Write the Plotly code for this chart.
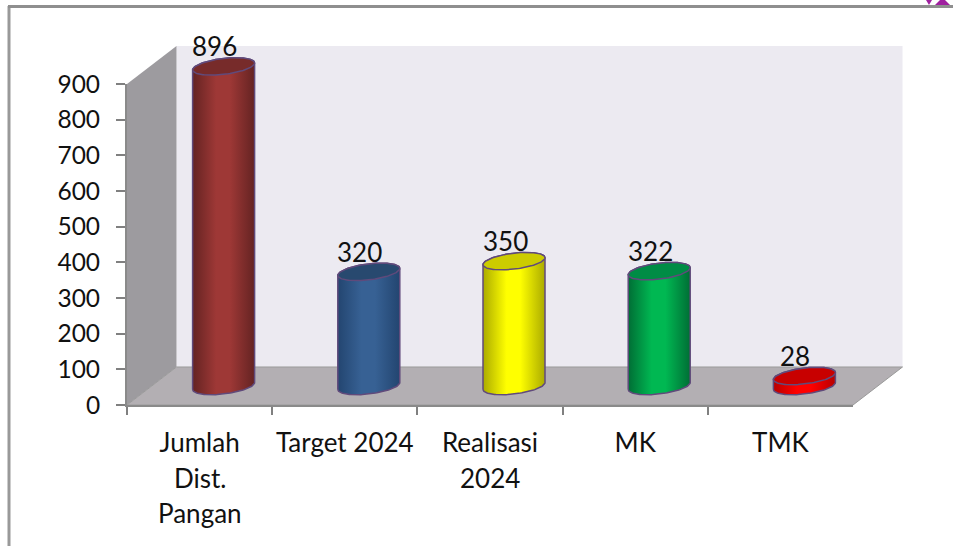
import numpy as np
import plotly.graph_objects as go

W, H = 953, 546

# ---- data ----
category_lines = [["Jumlah", "Dist.", "Pangan"], ["Target 2024"], ["Realisasi", "2024"], ["MK"], ["TMK"]]
values = [896, 320, 350, 322, 28]
y_ticks = [0, 100, 200, 300, 400, 500, 600, 700, 800, 900]
body_edge = ["#642322", "#234570", "#ABAB00", "#006E35", "#B80000"]
body_mid = ["#9E3836", "#376194", "#FFFF00", "#00B852", "#FF0000"]
top_colors = ["#772B2A", "#28496F", "#CCCC00", "#008C45", "#C80000"]

# ---- layout constants (pixels in the picture) ----
X0, X1, Y0, Y1 = 127.0, 853.0, 405.0, 84.0     # front axes box
DX, DY = 24.0, 19.0                             # depth offset of the bars
BACK_DX, BACK_DY = 49.5, 38.0
HALF_W_PX, HALF_H_PX, TILT_PX = 31.0, 8.0, 3.5
PAD = 60                                        # extra axis units so ellipses are not clipped

px = lambda x: x / W
py = lambda y: 1 - y / H
def poly(points):
    return "M " + " L ".join(f"{px(a):.5f},{py(b):.5f}" for a, b in points) + " Z"

cat_w = (X1 - X0) / len(values)
unit = (Y0 - Y1) / 900.0
a = HALF_W_PX / cat_w
b = HALF_H_PX / unit
tilt = TILT_PX / unit

shapes = [
    dict(type="path", path=poly([(X0 + BACK_DX, Y1 - BACK_DY), (X1 + BACK_DX, Y1 - BACK_DY),
                                 (X1 + BACK_DX, Y0 - BACK_DY), (X0 + BACK_DX, Y0 - BACK_DY)]),
         xref="paper", yref="paper", fillcolor="#ECEAF1", line_width=0, layer="below"),
    dict(type="path", path=poly([(X0, Y1), (X0 + BACK_DX, Y1 - BACK_DY), (X0 + BACK_DX, Y0 - BACK_DY), (X0, Y0)]),
         xref="paper", yref="paper", fillcolor="#9D9B9F", line_width=0, layer="below"),
    dict(type="path", path=poly([(X0, Y0), (X0 + BACK_DX, Y0 - BACK_DY), (X1 + BACK_DX, Y0 - BACK_DY), (X1, Y0)]),
         xref="paper", yref="paper", fillcolor="#B3AFB3", line=dict(color="#9A9A9A", width=1), layer="below"),
    dict(type="line", x0=px(9), x1=px(9), y0=py(6), y1=py(546), xref="paper", yref="paper",
         line=dict(color="#999999", width=3), layer="below"),
    dict(type="line", x0=px(8), x1=px(953), y0=py(6.5), y1=py(6.5), xref="paper", yref="paper",
         line=dict(color="#8F8F8F", width=3), layer="below"),
    dict(type="path", path=poly([(926, 0), (932, 0), (929, 5)]), xref="paper", yref="paper",
         fillcolor="#A020A0", line_width=0),
    dict(type="path", path=poly([(935, 5), (940, 0), (945, 0), (950, 5)]), xref="paper", yref="paper",
         fillcolor="#A020A0", line_width=0),
]

fig = go.Figure()

# axes-carrying bar trace (category axis with ticks on the boundaries)
first_lines = [c[0] for c in category_lines]
fig.add_trace(go.Bar(x=first_lines, y=values, marker_opacity=0, hoverinfo="skip", showlegend=False))

t = np.linspace(0, 2 * np.pi, 121)
annotations = []
for i, v in enumerate(values):
    cx = i + 0.5
    tl = np.linspace(np.pi, 2 * np.pi, 61)
    bx = cx + a * np.cos(tl)
    by = tilt * np.cos(tl) + b * np.sin(tl)
    tr = np.linspace(0, np.pi, 61)
    ux = cx + a * np.cos(tr)
    uy = v + tilt * np.cos(tr) + b * np.sin(tr)
    fig.add_trace(go.Scatter(
        x=np.r_[bx, ux, bx[0]], y=np.r_[by, uy, by[0]], xaxis="x2", yaxis="y2",
        mode="lines", fill="toself", line=dict(color="#604A7B", width=1.5),
        fillgradient=dict(type="horizontal",
                          colorscale=[[0, body_edge[i]], [0.38, body_mid[i]], [0.6, body_mid[i]], [1, body_edge[i]]]),
        hoverinfo="skip", showlegend=False))
    fig.add_trace(go.Scatter(
        x=cx + a * np.cos(t), y=v + tilt * np.cos(t) + b * np.sin(t), xaxis="x2", yaxis="y2",
        mode="lines", fill="toself", fillcolor=top_colors[i], line=dict(color="#604A7B", width=1.5),
        hoverinfo="skip", showlegend=False))
    annotations.append(dict(x=cx, y=v, xref="x2", yref="y2", text=str(v), showarrow=False,
                            xshift=-9, yshift=20, font=dict(family="Lato", size=26, color="#111111")))
    for k, line in enumerate(category_lines[i][1:], start=1):
        annotations.append(dict(x=first_lines[i], y=py(442 + 35.5 * k), xref="x", yref="paper", text=line,
                                showarrow=False, yanchor="middle",
                                font=dict(family="Lato", size=26, color="#111111")))

fig.update_layout(
    width=W, height=H, margin=dict(l=0, r=0, t=0, b=0, autoexpand=False), paper_bgcolor="white",
    plot_bgcolor="rgba(0,0,0,0)", shapes=shapes, annotations=annotations, showlegend=False,
    xaxis=dict(domain=[px(X0), px(X1)], type="category", tickson="boundaries", range=[-0.5, 4.5],
               ticks="outside", ticklen=8, tickwidth=2, tickcolor="#808080", showline=True, linecolor="#8A8A8A",
               linewidth=2, showgrid=False, zeroline=False, ticklabelstandoff=14, automargin=False, tickangle=0,
               tickfont=dict(family="Lato", size=26, color="#111111")),
    yaxis=dict(domain=[py(Y0), py(Y1)], range=[0, 900], tickmode="array", tickvals=y_ticks,
               ticks="outside", ticklen=9, tickwidth=2, tickcolor="#808080", showline=True, linecolor="#8A8A8A",
               linewidth=2, showgrid=False, zeroline=False, ticklabelstandoff=11, automargin=False,
               tickfont=dict(family="Lato", size=24.5, color="#111111")),
    xaxis2=dict(domain=[px(X0 + DX), px(X1 + DX)], range=[0, len(values)], visible=False, anchor="y2"),
    yaxis2=dict(domain=[py(Y0 - DY + PAD * unit), py(Y1 - DY - PAD * unit)], range=[-PAD, 900 + PAD],
                visible=False, anchor="x2"),
)

fig.write_html("out.html", config={"displayModeBar": False},
               post_script="document.body.style.margin='0';document.body.style.overflow='hidden';")
